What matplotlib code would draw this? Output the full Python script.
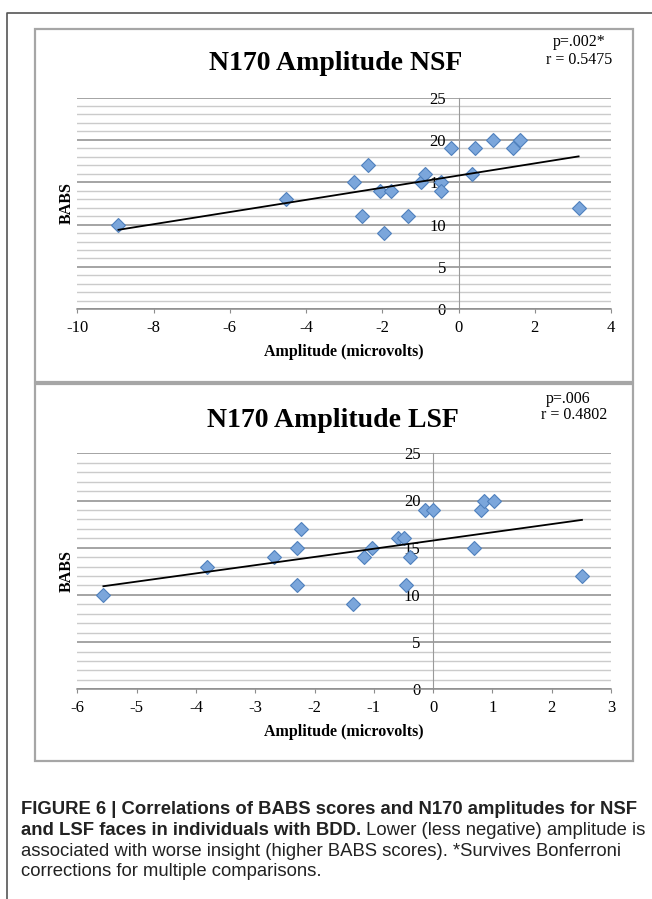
import numpy as np
import matplotlib
matplotlib.use('Agg')
import matplotlib.pyplot as plt
from matplotlib.ticker import MultipleLocator
from matplotlib.patches import Rectangle
from matplotlib.lines import Line2D

W, H = 652, 899

# values
nsf_amp = [-8.92, -4.52, -2.73, -2.37, -2.53, -2.06, -1.76, -1.96, -1.33, -0.98,
           -0.88, -0.47, -0.47, -0.20, 0.35, 0.42, 0.90, 1.43, 1.61, 3.15]
nsf_babs = [10, 13, 15, 17, 11, 14, 14, 9, 11, 15,
            16, 15, 14, 19, 16, 19, 20, 19, 20, 12]
lsf_amp = [-5.56, -3.82, -2.69, -2.30, -2.22, -2.29, -1.35, -1.16, -1.03, -0.59,
           -0.49, -0.39, -0.46, -0.13, -0.01, 0.69, 0.80, 0.86, 1.02, 2.51]
lsf_babs = [10, 13, 14, 15, 17, 11, 9, 14, 15, 16,
            16, 14, 11, 19, 19, 15, 19, 20, 20, 12]
nsf_stats = ['p=.002*', 'r = 0.5475']
lsf_stats = ['p=.006', 'r = 0.4802']

caption = [
    [('FIGURE 6 | Correlations of BABS scores and N170 amplitudes for NSF', 'bold')],
    [('and LSF faces in individuals with BDD.', 'bold'), (' Lower (less negative) amplitude is', 'normal')],
    [('associated with worse insight (higher BABS scores). *Survives Bonferroni', 'normal')],
    [('corrections for multiple comparisons.', 'normal')],
]

plt.rcParams['font.family'] = 'Liberation Serif'
plt.rcParams['axes.unicode_minus'] = False

fig = plt.figure(figsize=(W / 100, H / 100), dpi=100)


def fx(x):
    return x / W


def fy(y):
    return 1 - y / H


def box(x0, y0, x1, y1, color, lw):
    fig.add_artist(Rectangle((fx(x0), fy(y1)), fx(x1) - fx(x0), fy(y0) - fy(y1),
                             transform=fig.transFigure, fill=False, edgecolor=color, lw=lw))


def panel(amp, babs, xlim, xstep, title, stats, top, bottom, title_xy, stats_pos, xlab_y):
    ax = fig.add_axes([fx(77.3), fy(bottom), fx(611) - fx(77.3), fy(top) - fy(bottom)])
    ax.patch.set_alpha(0)
    ax.set_xlim(*xlim)
    ax.set_ylim(0, 25)
    ax.yaxis.set_major_locator(MultipleLocator(5))
    ax.yaxis.set_minor_locator(MultipleLocator(1))
    ax.xaxis.set_major_locator(MultipleLocator(xstep))
    ax.grid(which='major', axis='y', color='#8c8c8c', lw=1.1)
    ax.grid(which='minor', axis='y', color='#cbcbcb', lw=1.0)
    ax.set_axisbelow(True)
    for s in ['top', 'right']:
        ax.spines[s].set_visible(False)
    ax.spines['left'].set_position(('data', 0))
    ax.spines['left'].set_color('#9a9a9a')
    ax.spines['bottom'].set_color('#8c8c8c')
    ax.spines['bottom'].set_linewidth(1.1)
    ax.tick_params(axis='y', which='both', length=0, pad=9, labelsize=12)
    ax.tick_params(axis='x', length=3.2, color='#8c8c8c', direction='out', pad=4.5, labelsize=12)

    ax.plot(amp, babs, ls='none', marker='D', ms=7.2, mfc='#7ba6db', mec='#4f80bd', mew=0.8, zorder=3)
    slope, icpt = np.polyfit(amp, babs, 1)
    xs = np.array([min(amp), max(amp)])
    ax.plot(xs, slope * xs + icpt, color='black', lw=1.3, zorder=4)

    ax.set_xlabel('Amplitude (microvolts)', fontsize=11.5, fontweight='bold', va='center')
    ax.xaxis.set_label_coords(0.5, (bottom - xlab_y) / (bottom - top))
    ax.set_ylabel('BABS', fontsize=11.5, fontweight='bold', va='center')
    ax.yaxis.set_label_coords((66.6 - 77.3) / (611 - 77.3), 0.5)

    fig.text(fx(title_xy[0]), fy(title_xy[1]), title, fontsize=20, fontweight='bold',
             ha='center', va='center')
    for txt, (x, y) in zip(stats, stats_pos):
        fig.text(fx(x), fy(y), txt, fontsize=11.5, ha='center', va='center')
    return ax


# outer frame and the two chart boxes
fig.add_artist(Line2D([fx(7), fx(7), fx(652)], [fy(899), fy(13), fy(13)],
                      transform=fig.transFigure, color='#555555', lw=1.2))
box(35, 29, 633, 382, '#a6a6a6', 1.6)
box(35, 384, 633, 761, '#a6a6a6', 1.6)

panel(nsf_amp, nsf_babs, (-10, 4), 2, 'N170 Amplitude NSF', nsf_stats,
      97.5, 309.3, (336, 63), [(579, 42), (579, 60)], 352)
panel(lsf_amp, lsf_babs, (-6, 3), 1, 'N170 Amplitude LSF', lsf_stats,
      453.3, 689.3, (333, 420), [(568, 399), (574, 415)], 732)

# caption, one text per run so the line breaks stay as in the figure
cap_y = [814, 835, 856, 876]
for runs, y in zip(caption, cap_y):
    x = 21
    for txt, weight in runs:
        t = fig.text(fx(x), fy(y), txt, fontsize=13.3, fontweight=weight,
                     family='Liberation Sans', color='#222222', va='baseline', ha='left')
        fig.canvas.draw()
        x = t.get_window_extent().x1

fig.savefig('out.png', dpi=100)
